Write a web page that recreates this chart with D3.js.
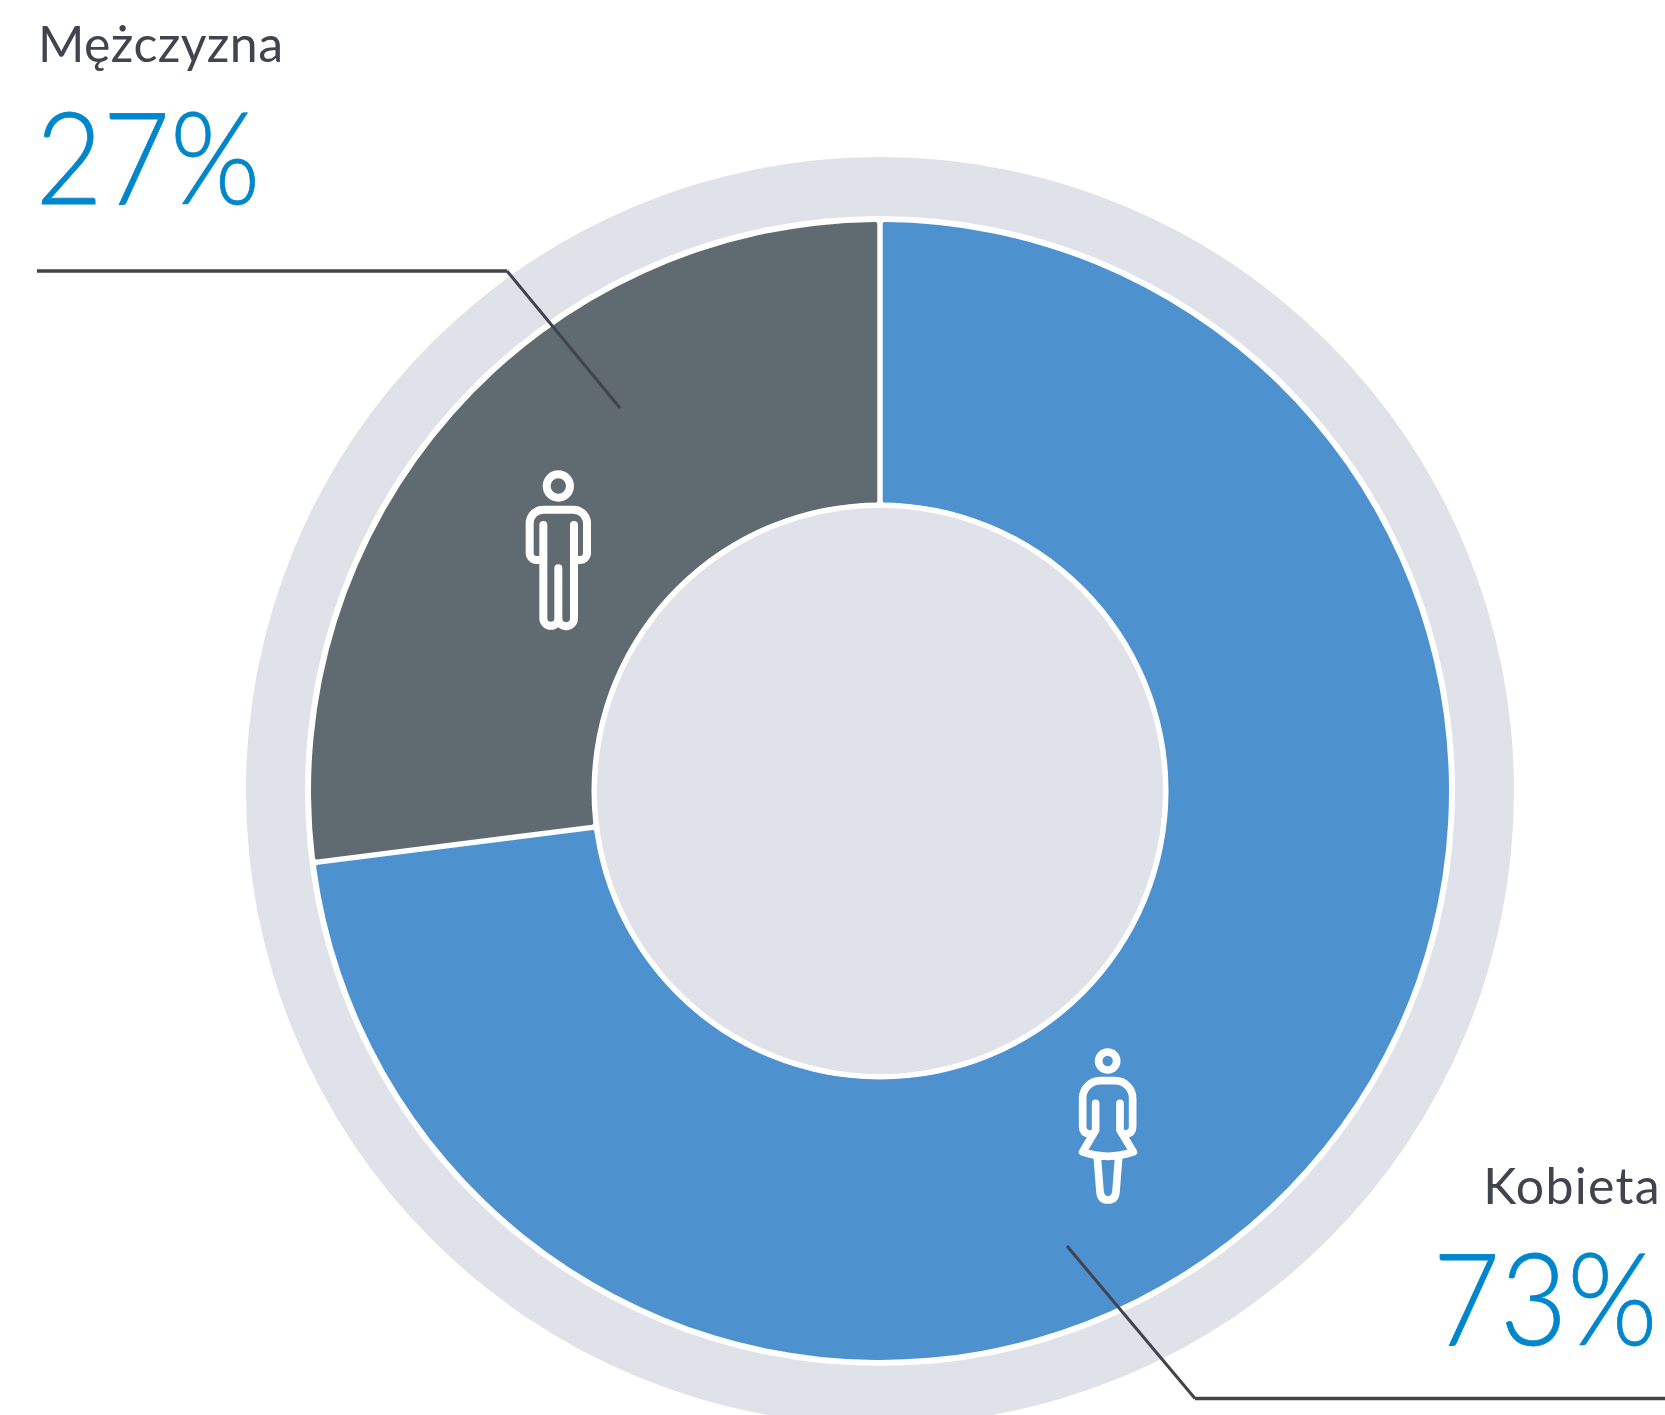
<!DOCTYPE html>
<html><head><meta charset="utf-8">
<script src="https://cdn.jsdelivr.net/npm/d3@7"></script>
<style>html,body{margin:0;padding:0;background:#fff}svg{display:block}</style>
</head><body><svg id="c" width="1665" height="1415"></svg>
<script>
const categories = ["Kobieta", "Mężczyzna"];
const values = [73, 27];
const percentLabels = ["73%", "27%"];
const sliceColors = ["#4d92cf", "#5f6b71"];

const svg = d3.select("#c");
const cx = 880, cy = 791;
const root = svg.append("g").attr("transform", `translate(${cx},${cy})`);
root.append("circle").attr("r", 634).attr("fill", "#dfe2e9");
root.append("circle").attr("r", 575).attr("fill", "#fff");

const pie = d3.pie().sort(null).value(d => d);
const arc = d3.arc().innerRadius(288).outerRadius(569).padRadius(569).padAngle(5.4 / 569).cornerRadius(2);
root.selectAll("path.slice").data(pie(values)).join("path")
  .attr("class", "slice").attr("d", arc).attr("fill", (d, i) => sliceColors[i]);
root.append("circle").attr("r", 288.5).attr("fill", "#fff");
root.append("circle").attr("r", 283).attr("fill", "#dfe2e9");

// Leader lines
const line = d3.line();
[[[37, 271], [507, 271]], [[1195, 1398.5], [1665, 1398.5]]].forEach(p =>
  svg.append("path").attr("d", line(p)).attr("fill", "none").attr("stroke", "#41434e").attr("stroke-width", 3.5));
[[[507, 271], [620, 408]], [[1067, 1246], [1195, 1398.5]]].forEach(p =>
  svg.append("path").attr("d", line(p)).attr("fill", "none").attr("stroke", "#41434e").attr("stroke-width", 3));

// Icons
const man = svg.append("g").attr("transform", "translate(480,440) scale(0.3333)")
  .attr("fill", "none").attr("stroke", "#fff").attr("stroke-width", 24).attr("stroke-linecap", "round").attr("stroke-linejoin", "round");
man.append("circle").attr("cx", 235).attr("cy", 138).attr("r", 35);
man.append("path").attr("d", "M190 255V535a22.5 22.5 0 0 0 45 0a23.5 23.5 0 0 0 47 0V255M235 385V535M190 360H170A21 21 0 0 1 149 339V250A41 41 0 0 1 190 209H280A41 41 0 0 1 321 250V339A21 21 0 0 1 300 360H283");

const woman = svg.append("g").attr("transform", "translate(1040,1030) scale(0.3333)")
  .attr("fill", "none").attr("stroke", "#fff").attr("stroke-width", 23).attr("stroke-linecap", "round").attr("stroke-linejoin", "round");
woman.append("circle").attr("cx", 203).attr("cy", 93).attr("r", 27);
woman.append("path").attr("d", "M167 220V300L128 366Q203 392 280 366L240 300V220M128 290Q128 310 150 312M278 290Q278 310 256 312M128 290V205A53 53 0 0 1 181 152H225A53 53 0 0 1 278 205V290M172 382L180 485Q182 510 204 510Q226 510 228 485L236 382");

// Text
const labelFont = "Lato";
function label(x, y, t, anchor, ls) {
  svg.append("text").attr("x", x).attr("y", y).attr("text-anchor", anchor)
    .attr("font-family", labelFont).attr("font-size", 50).attr("font-weight", 400)
    .attr("letter-spacing", ls).attr("fill", "#41434e").text(t);
}
function pct(x, y, t, anchor) {
  svg.append("text").attr("transform", `translate(${x},${y}) scale(0.906,1)`).attr("text-anchor", anchor)
    .attr("font-family", labelFont).attr("font-size", 128).attr("font-weight", 300)
    .attr("stroke", "#0086cb").attr("stroke-width", 0.8)
    .attr("fill", "#0086cb").text(t);
}
label(38, 62, categories[1], "start", 0.4);
pct(35.5, 204, percentLabels[1], "start");
label(1661, 1204, categories[0], "end", 1.3);
pct(1657.7, 1345, percentLabels[0], "end");
</script></body></html>
